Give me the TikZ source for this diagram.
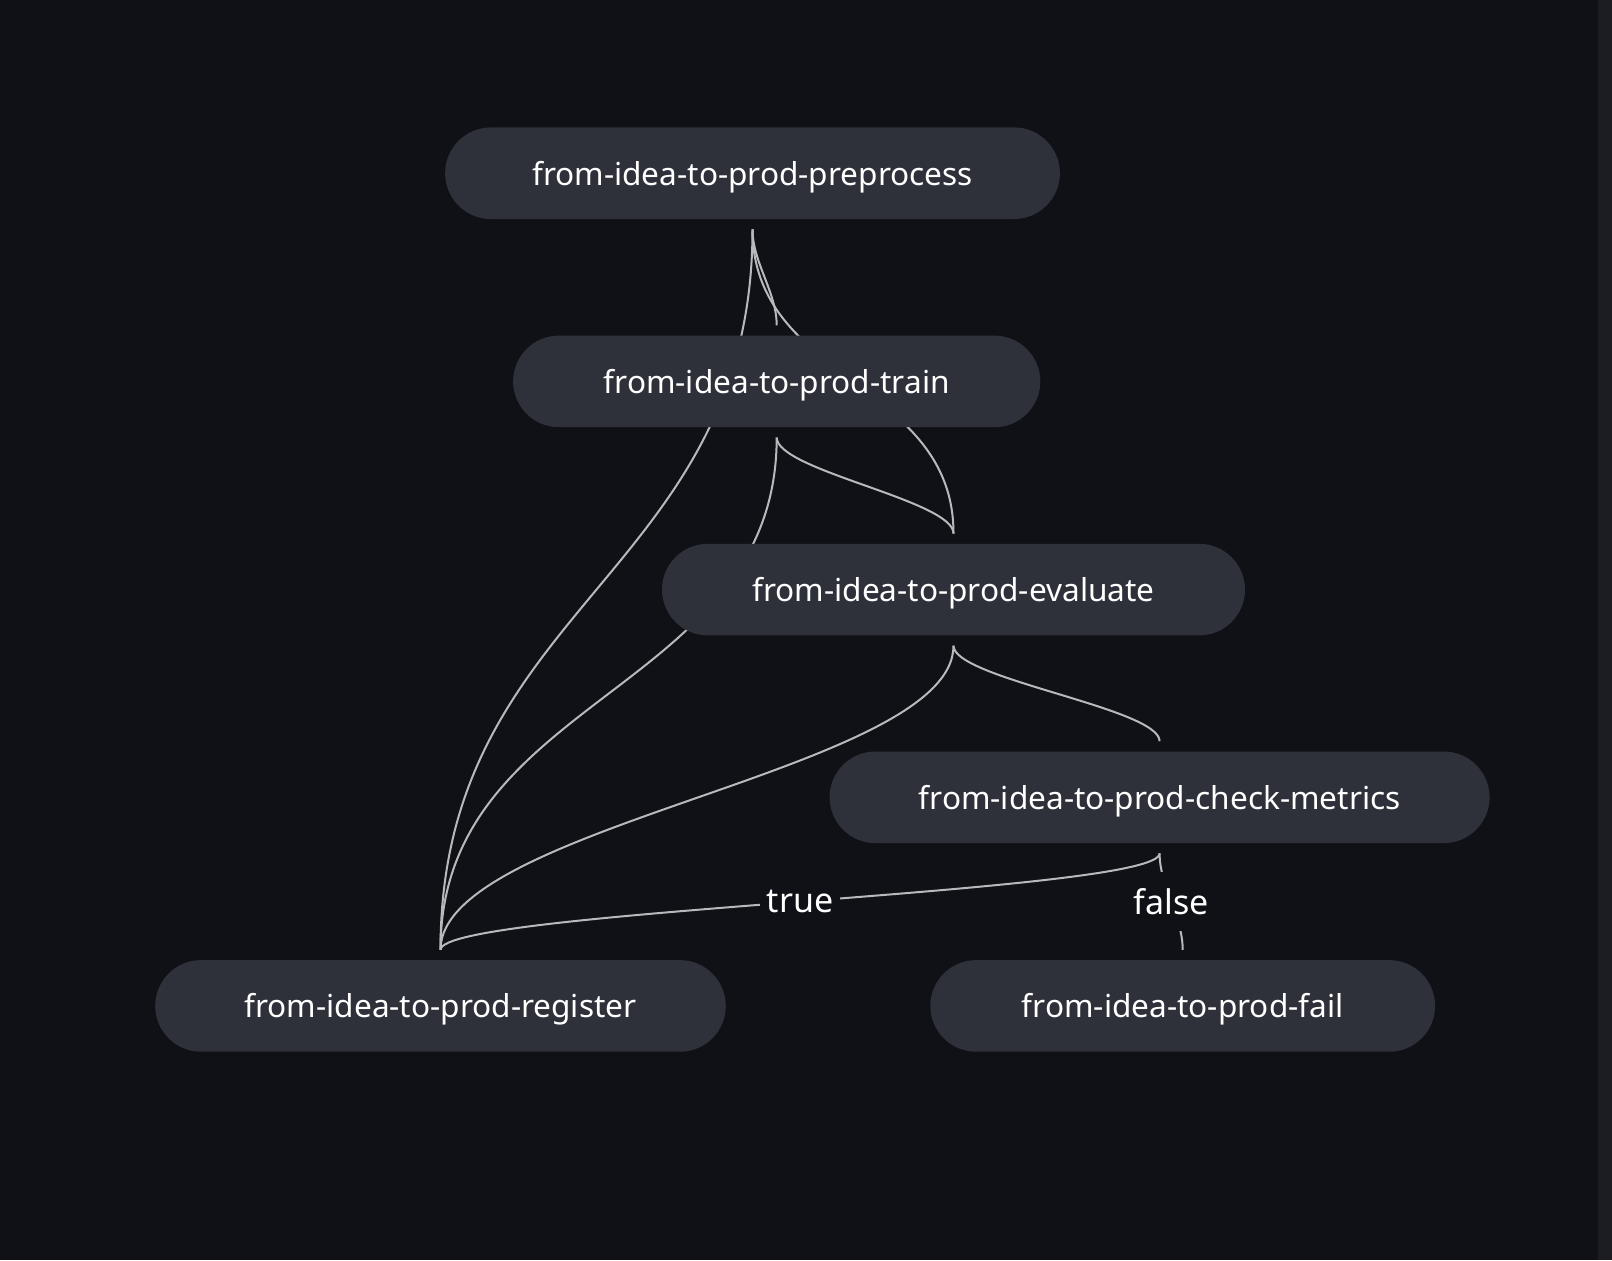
\documentclass[tikz,border=0pt]{standalone}
\usepackage{fontspec}
\setmainfont{Noto Sans}
\usetikzlibrary{positioning}
\definecolor{canvas}{HTML}{101116}
\definecolor{rail}{HTML}{1C1D22}
\definecolor{pill}{HTML}{2E313A}
\definecolor{wire}{HTML}{B7B9BD}
\pgfdeclarelayer{bg}
\pgfdeclarelayer{wires}
\pgfsetlayers{bg,wires,main}

\begin{document}
\begin{tikzpicture}[x=0.5pt, y=-0.5pt,
        stage/.style={rectangle, rounded corners=22.9pt, fill=pill, text=white, minimum height=45.8pt, outer ysep=5.15pt, text height=15pt, text depth=3.2pt, font=\fontsize{15.8}{18}\selectfont},
        link/.style={wire, line width=1pt},
        cond/.style={fill=canvas, text=white, inner xsep=3.5pt, inner ysep=8pt, font=\fontsize{17}{20}\selectfont}]
        \useasboundingbox (0,0) rectangle (1612,1260);
        \begin{pgfonlayer}{bg}
        \fill[canvas] (0,0) rectangle (1612,1260);
        \fill[rail] (1598,0) rectangle (1612,1260);
        \end{pgfonlayer}
        % pipeline steps
        \node[stage, minimum width=307.4pt] (pre) at (752.5,173.2) {from-idea-to-prod-preprocess};
        \node[stage, minimum width=263.6pt] (train) at (776.7,381.4) {from-idea-to-prod-train};
        \node[stage, minimum width=291.5pt] (eval) at (953.5,589.6) {from-idea-to-prod-evaluate};
        \node[stage, minimum width=330pt] (check) at (1159.6,797.3) {from-idea-to-prod-check-metrics};
        \node[stage, minimum width=285.3pt] (reg) at (440.5,1005.9) {from-idea-to-prod-register};
        \node[stage, minimum width=252.4pt] (fail) at (1182.7,1005.9) {from-idea-to-prod-fail};
        % dependencies, drawn under the steps
        \begin{pgfonlayer}{wires}
        \draw[link] (pre.south) .. controls +(0,33) and +(0,-33) .. (train.north);
        \draw[link] (pre.south) .. controls +(0,345) and +(0,-345) .. (reg.north);
        \draw[link] (pre.south) .. controls +(0,152) and +(0,-152) .. (eval.north);
        \draw[link] (train.south) .. controls +(0,33) and +(0,-33) .. (eval.north);
        \draw[link] (train.south) .. controls +(0,256) and +(0,-256) .. (reg.north);
        \draw[link] (eval.south) .. controls +(0,33) and +(0,-33) .. (check.north);
        \draw[link] (eval.south) .. controls +(0,125) and +(0,-125) .. (reg.north);
        \draw[link] (check.south) .. controls +(0,40) and +(0,-40) .. (reg.north) node[cond, midway] {true};
        \draw[link] (check.south) .. controls +(0,33) and +(0,-33) .. (fail.north) node[cond, midway] {false};
        \end{pgfonlayer}
\end{tikzpicture}
\end{document}
